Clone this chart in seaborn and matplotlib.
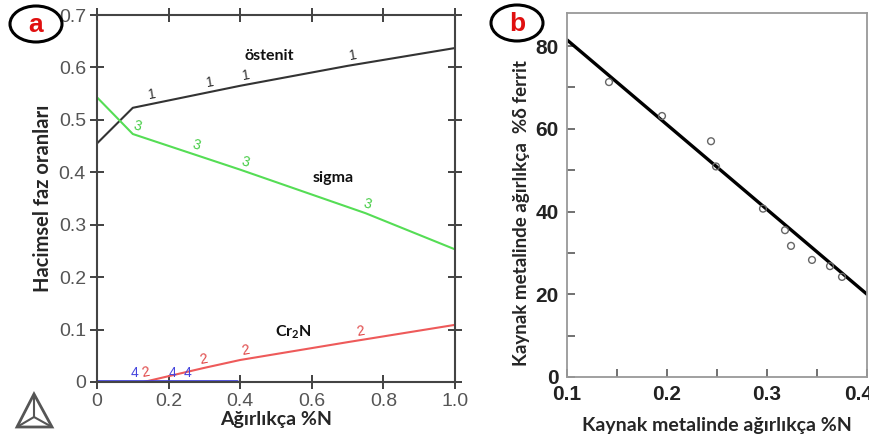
import numpy as np
import matplotlib
matplotlib.use("Agg")
import matplotlib.pyplot as plt
import matplotlib.transforms as mtransforms
import seaborn as sns
from matplotlib.patches import Ellipse, Polygon
from matplotlib.lines import Line2D

# --- veri: (a) faz oranları ---
n_ost = [0.0, 0.1, 0.4, 0.7, 1.0]
ostenit = [0.455, 0.523, 0.565, 0.603, 0.637]
n_sig = [0.0, 0.1, 0.4, 0.75, 1.0]
sigma = [0.543, 0.473, 0.405, 0.322, 0.253]
n_cr = [0.13, 0.3, 0.4, 0.7, 1.0]
cr2n = [0.0, 0.027, 0.042, 0.076, 0.109]
n_blue = [0.0, 0.39]
faz4 = [0.002, 0.002]

# eğri numaralarının x konumları
lab1_x = [0.155, 0.315, 0.415, 0.715]
lab3_x = [0.112, 0.276, 0.415, 0.755]
lab2_x = [0.136, 0.296, 0.414, 0.736]
lab4_x = [0.105, 0.212, 0.254]

# --- veri: (b) ferrit ---
pts_n = [0.142, 0.195, 0.244, 0.249, 0.296, 0.318, 0.324, 0.345, 0.363, 0.375]
pts_ferrit = [71.3, 63.1, 57.0, 50.9, 40.7, 35.5, 31.7, 28.3, 26.8, 24.2]
fit_n = [0.1, 0.4]
fit_ferrit = [81.5, 20.0]

sns.set_style("ticks")
plt.rcParams['font.family'] = ['Liberation Sans', 'DejaVu Sans']
plt.rcParams['mathtext.default'] = 'regular'
plt.rcParams['xtick.direction'] = 'in'
plt.rcParams['ytick.direction'] = 'in'

W, H = 869, 443
fig = plt.figure(figsize=(W / 100, H / 100), dpi=100)

def px_box(l, t, r, b):
    return [l / W, 1 - b / H, (r - l) / W, (b - t) / H]

LBL = ['Lato', 'DejaVu Sans']

# ================= (a) =================
ax1 = fig.add_axes(px_box(97, 15, 455, 382))
sns.lineplot(x=n_ost, y=ostenit, ax=ax1, color='#333333', lw=1.5, sort=False)
sns.lineplot(x=n_sig, y=sigma, ax=ax1, color='#55dd55', lw=1.5, sort=False)
sns.lineplot(x=n_cr, y=cr2n, ax=ax1, color='#ee5a5a', lw=1.5, sort=False)
sns.lineplot(x=n_blue, y=faz4, ax=ax1, color='#4444dd', lw=2.0, sort=False)

for xs, nx, ny, txt, col, rot in [(lab1_x, n_ost, ostenit, '1', '#333333', 10),
                                  (lab3_x, n_sig, sigma, '3', '#44cc44', -15),
                                  (lab2_x, n_cr, cr2n, '2', '#e04848', 10)]:
    for x in xs:
        y = np.interp(x, nx, ny)
        ax1.text(x, y + 0.003, txt, color=col, fontsize=10, ha='center', va='bottom',
                 rotation=rot)
for x in lab4_x:
    ax1.text(x, 0.003, '4', color='#4444dd', fontsize=10, ha='center', va='bottom')

ax1.text(0.48, 0.622, 'östenit', fontsize=11.5, fontweight='bold', family=LBL,
         ha='center', va='center', color='#111111')
ax1.text(0.66, 0.39, 'sigma', fontsize=11.5, fontweight='bold', family=LBL,
         ha='center', va='center', color='#111111')
ax1.text(0.547, 0.095, r'Cr$\mathregular{_2}$N', fontsize=11.5, fontweight='bold',
         family=LBL, ha='center', va='center', color='#111111')

ax1.set_xlim(0, 1.0)
ax1.set_ylim(0, 0.7)
ax1.set_xticks([0, 0.2, 0.4, 0.6, 0.8, 1.0])
ax1.set_xticklabels(['0', '0.2', '0.4', '0.6', '0.8', '1.0'])
ax1.set_yticks([0, 0.1, 0.2, 0.3, 0.4, 0.5, 0.6, 0.7])
ax1.set_yticklabels(['0', '0.1', '0.2', '0.3', '0.4', '0.5', '0.6', '0.7'])
ax1.tick_params(direction='inout', length=10, width=1.3, bottom=True, left=True, top=True,
                right=True, labelsize=14, labelcolor='#555555', color='#333333', pad=3)
for s in ax1.spines.values():
    s.set_visible(True)
    s.set_color('#444444')
    s.set_linewidth(1.5)
ax1.set_xlabel('Ağırlıkça %N', fontsize=14, fontweight='bold', family=LBL, labelpad=1)
ax1.set_ylabel('Hacimsel faz oranları', fontsize=14.5, fontweight='bold', family=LBL,
               labelpad=4)

# ================= (b) =================
ax2 = fig.add_axes(px_box(567, 13, 867, 377))
sns.lineplot(x=fit_n, y=fit_ferrit, ax=ax2, color='black', lw=2.4, sort=False)
sns.scatterplot(x=pts_n, y=pts_ferrit, ax=ax2, marker='o', s=24, fc='none',
                ec='#666666', linewidth=1.0, zorder=3)
ax2.set_xlim(0.1, 0.4)
ax2.set_ylim(0, 88)
ax2.set_xticks([0.1, 0.2, 0.3, 0.4])
ax2.set_xticklabels(['0.1', '0.2', '0.3', '0.4'])
ax2.set_xticks([0.15, 0.25, 0.35], minor=True)
ax2.set_yticks([0, 20, 40, 60, 80])
ax2.set_yticks([10, 30, 50, 70], minor=True)
ax2.tick_params(which='both', direction='in', length=6, width=1.3, color='#666666',
                bottom=True, left=True, top=False, right=False, labelsize=15, pad=6)
for lab in ax2.get_xticklabels() + ax2.get_yticklabels():
    lab.set_fontweight('bold')
    lab.set_color('#222222')
# son etiket (0.4) resimde olduğu gibi kenara dayalı; biraz sola kaydır
last = ax2.get_xticklabels()[-1]
last.set_transform(last.get_transform() +
                   mtransforms.ScaledTranslation(-8 / 100, 0, fig.dpi_scale_trans))
for s in ax2.spines.values():
    s.set_visible(True)
    s.set_color('#999999')
    s.set_linewidth(1.3)
ax2.set_xlabel('Kaynak metalinde ağırlıkça %N', fontsize=14, fontweight='bold',
               family=LBL, labelpad=9)
ax2.set_ylabel('Kaynak metalinde ağırlıkça  %δ ferrit', fontsize=13.5, fontweight='bold',
               family=LBL)
ax2.yaxis.set_label_coords(-0.125, 0.45)

# --- panel harfleri ---
for cx, cy, letter in [(36, 24, 'a'), (517, 23, 'b')]:
    fig.add_artist(Ellipse((cx / W, 1 - cy / H), 52 / W, 36 / H, transform=fig.transFigure,
                           fill=False, ec='black', lw=2.2))
    fig.text(cx / W, 1 - (cy + 1) / H, letter, color='#e01010', fontsize=19, fontweight='bold',
             ha='center', va='center', family=['Liberation Sans', 'DejaVu Sans'])

# --- logo ---
tri = [(17, 427), (34, 394), (52, 427)]
mid = (34, 417)
fig.add_artist(Polygon([(x / W, 1 - y / H) for x, y in tri], closed=True, fill=False,
                       ec='#555555', lw=2.0, transform=fig.transFigure))
for x, y in tri:
    fig.add_artist(Line2D([x / W, mid[0] / W], [1 - y / H, 1 - mid[1] / H],
                          color='#555555', lw=1.5, transform=fig.transFigure))

fig.savefig('out.png', dpi=100)
